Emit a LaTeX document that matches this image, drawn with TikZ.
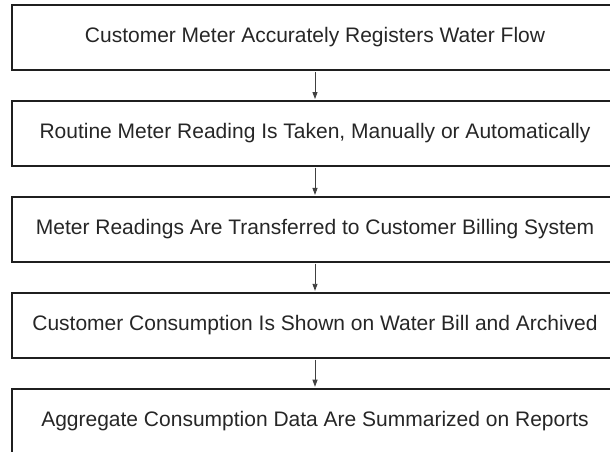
\documentclass[tikz,border=0pt]{standalone}
\usepackage{fontspec}
\setmainfont{Liberation Sans}
\usetikzlibrary{positioning,arrows.meta}
\begin{document}
\begin{tikzpicture}[x=1pt,y=1pt]
  \useasboundingbox (0,0) rectangle (610,452);
  \clip (0,0) rectangle (610,452);
  \begin{scope}[every node/.style={draw=black!88,line width=1.9pt,rectangle,minimum width=606pt,minimum height=65pt,inner sep=0pt,font=\fontsize{21}{24}\selectfont,text=black!85}]
  \node (meter) at (315,414.5) {Customer Meter Accurately Registers Water Flow};
  \node (reading) [below=29pt of meter] {Routine Meter Reading Is Taken, Manually or Automatically};
  \node (transfer) [below=29pt of reading] {Meter Readings Are Transferred to Customer Billing System};
  \node (bill) [below=29pt of transfer] {Customer Consumption Is Shown on Water Bill and Archived};
  \node (report) [below=29pt of bill] {Aggregate Consumption Data Are Summarized on Reports};
  \end{scope}
  \begin{scope}[every edge/.style={draw=black!75,line width=0.9pt,-{Triangle[length=7pt,width=5pt]},shorten <=0.9pt,shorten >=0.9pt}]
  \path (meter) edge (reading);
  \path (reading) edge (transfer);
  \path (transfer) edge (bill);
  \path (bill) edge (report);
  \end{scope}
\end{tikzpicture}
\end{document}
